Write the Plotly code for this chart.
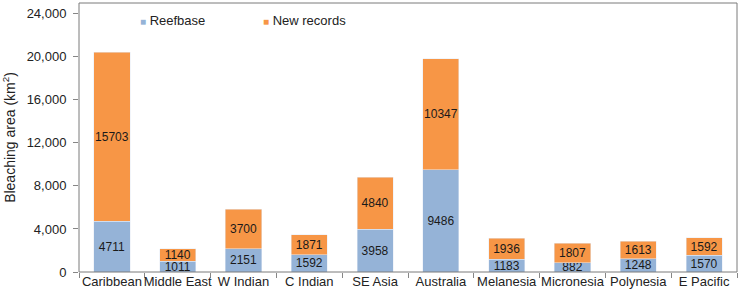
import plotly.graph_objects as go

categories = ["Caribbean", "Middle East", "W Indian", "C Indian", "SE Asia",
              "Australia", "Melanesia", "Micronesia", "Polynesia", "E Pacific"]
reefbase = [4711, 1011, 2151, 1592, 3958, 9486, 1183, 882, 1248, 1570]
new_records = [15703, 1140, 3700, 1871, 4840, 10347, 1936, 1807, 1613, 1592]
y_ticks = [0, 4000, 8000, 12000, 16000, 20000, 24000]

series_names = ["Reefbase", "New records"]
series_colors = ["#95B3D7", "#F79646"]

font = "Liberation Sans, Arial, sans-serif"

fig = go.Figure()
for name, vals, col in zip(series_names, [reefbase, new_records], series_colors):
    fig.add_trace(go.Bar(name=name, x=categories, y=vals,
                         marker_color=col, text=vals, textposition="inside",
                         insidetextanchor="middle", textangle=0,
                         insidetextfont=dict(color="#1a1a1a", size=12, family=font),
                         showlegend=False))

fig.update_layout(
    barmode="stack", bargap=0.45,
    width=740, height=295,
    margin=dict(l=79, r=3, t=3, b=23),
    plot_bgcolor="white", paper_bgcolor="white",
    font=dict(family=font, size=13, color="#222"),
    uniformtext=dict(mode="show", minsize=12),
    yaxis=dict(range=[0, 25000], tickvals=y_ticks, automargin=False,
               ticktext=[f"{v:,}" for v in y_ticks], showgrid=False,
               ticks="outside", ticklen=5, tickcolor="#868686",
               ticklabelstandoff=4, tickfont=dict(size=13),
               showline=False, zeroline=False,
               title=dict(text="Bleaching area (km<sup>2</sup>)", font=dict(size=14), standoff=10)),
    xaxis=dict(showgrid=False, ticks="outside", tickson="boundaries", ticklen=5,
               tickcolor="#868686", showline=False, tickfont=dict(size=13),
               tickangle=0, automargin=False),
)
# legend drawn as annotations
legend_x = [0.089, 0.276]
for name, col, lx in zip(series_names, series_colors, legend_x):
    fig.add_annotation(xref="paper", yref="paper", x=lx, y=0.935, xanchor="left",
                       yanchor="middle", showarrow=False,
                       text=f"<span style='color:{col};font-size:10px'>■</span> {name}",
                       font=dict(size=13, family=font, color="#222"))
fig.add_shape(type="rect", xref="paper", yref="paper", x0=0, y0=0, x1=1, y1=1,
              line=dict(color="#7a7a7a", width=1))
fig.write_html("out.html", config={"displayModeBar": False},
               post_script="document.body.style.margin='0';document.body.style.overflow='hidden';")
